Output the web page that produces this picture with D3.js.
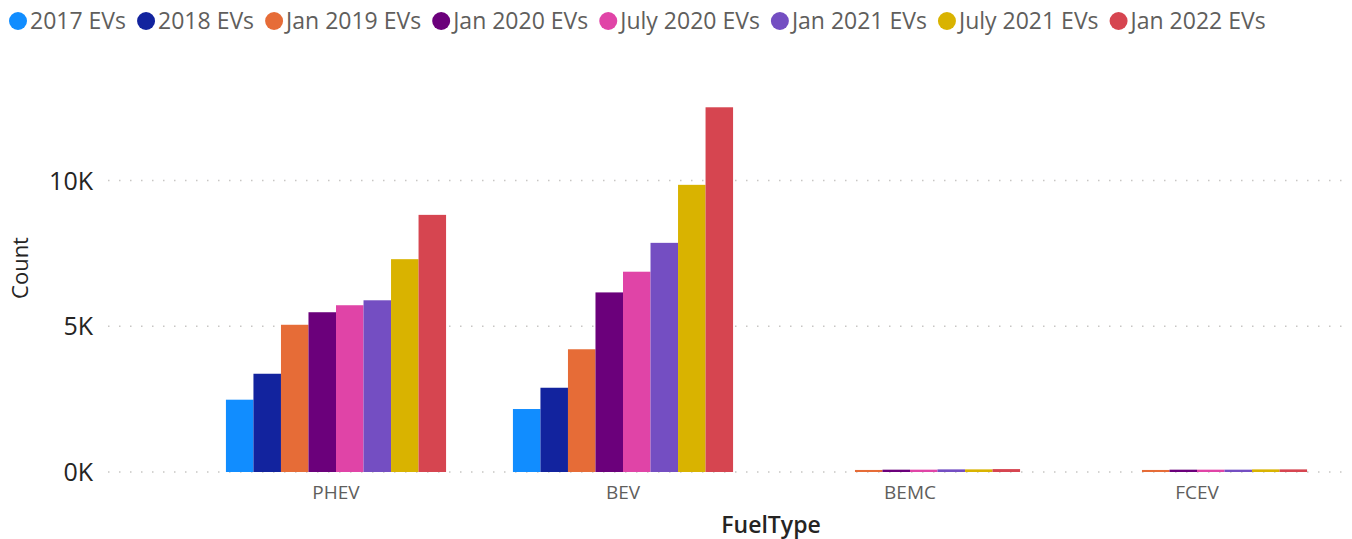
<!DOCTYPE html>
<html>
<head>
<meta charset="utf-8">
<script src="https://cdn.jsdelivr.net/npm/d3@7"></script>
<style>
  body { margin: 0; background: #fff; }
  svg { display: block; font-family: "Segoe UI", "Open Sans", "Noto Sans", sans-serif; }
</style>
</head>
<body>
<svg id="chart" width="1352" height="539"></svg>
<script>
// data
var fuelTypes = ["PHEV", "BEV", "BEMC", "FCEV"];
var seriesNames = ["2017 EVs", "2018 EVs", "Jan 2019 EVs", "Jan 2020 EVs",
                   "July 2020 EVs", "Jan 2021 EVs", "July 2021 EVs", "Jan 2022 EVs"];
var seriesColors = ["#118DFF", "#12239E", "#E66C37", "#6B007B",
                    "#E044A7", "#744EC2", "#D9B300", "#D64550"];
// values per fuel type, in series order
var phev = [2480, 3370, 5050, 5480, 5720, 5890, 7300, 8820];
var bev  = [2160, 2890, 4210, 6160, 6870, 7860, 9850, 12510];
var bemc = [0, 0, 70, 80, 80, 90, 90, 100];
var fcev = [0, 0, 70, 80, 80, 80, 90, 90];
var yTicks = [0, 5000, 10000];

var values = [phev, bev, bemc, fcev];

var svg = d3.select("#chart");

var x0 = d3.scaleBand().domain(fuelTypes).range([192.5, 1340.5])
           .paddingInner(0.233).paddingOuter(0.1165);
var x1 = d3.scaleBand().domain(seriesNames).range([0, x0.bandwidth()]);
var y = d3.scaleLinear().domain([0, 13000]).range([472, 93]);

// gridlines
svg.append("g").selectAll("line")
  .data(yTicks).enter().append("line")
  .attr("x1", 108).attr("x2", 1342)
  .attr("y1", function(d){ return y(d); })
  .attr("y2", function(d){ return y(d); })
  .attr("stroke", "#C8C6C4")
  .attr("stroke-width", 1.5)
  .attr("stroke-dasharray", "1.5,9.5");

// y axis labels
var yAxis = d3.axisLeft(y).tickValues(yTicks).tickSize(0).tickPadding(0)
  .tickFormat(function(d){ return (d / 1000) + "K"; });
var ya = svg.append("g").attr("transform", "translate(93,0)").call(yAxis)
  .attr("font-family", null).attr("font-size", null);
ya.select(".domain").remove();
ya.selectAll("text").attr("fill", "#252423").style("font-size", "25px")
  .attr("dy", "0.35em");

// bars
var groups = svg.append("g").selectAll("g")
  .data(fuelTypes).enter().append("g")
  .attr("transform", function(d){ return "translate(" + x0(d) + ",0)"; });

groups.selectAll("rect")
  .data(function(d, i){
    return values[i].map(function(v, j){ return {s: seriesNames[j], v: v, c: seriesColors[j]}; });
  })
  .enter().append("rect")
  .attr("x", function(d){ return x1(d.s); })
  .attr("width", x1.bandwidth())
  .attr("y", function(d){ return y(d.v); })
  .attr("height", function(d){ return y(0) - y(d.v); })
  .attr("fill", function(d){ return d.c; });

// x axis labels
var xAxis = d3.axisBottom(x0).tickSize(0).tickPadding(0);
var xa = svg.append("g").attr("transform", "translate(0,484)").call(xAxis)
  .attr("font-family", null).attr("font-size", null);
xa.select(".domain").remove();
xa.selectAll("text").attr("fill", "#605E5C").style("font-size", "19px")
  .attr("dy", "0.8em");

// axis titles
svg.append("text")
  .attr("transform", "translate(28,268) rotate(-90)")
  .attr("text-anchor", "middle")
  .attr("fill", "#252423")
  .style("font-size", "22px")
  .text("Count");

svg.append("text")
  .attr("x", 771).attr("y", 533)
  .attr("text-anchor", "middle")
  .attr("fill", "#252423")
  .style("font-size", "23px")
  .style("font-weight", "600")
  .text("FuelType");

// legend
var lg = svg.append("g");
var lx = 18;
seriesNames.forEach(function(name, i){
  lg.append("circle").attr("cx", lx).attr("cy", 21).attr("r", 9)
    .attr("fill", seriesColors[i]);
  var t = lg.append("text").attr("x", lx + 12).attr("y", 21)
    .attr("dy", "0.35em").attr("fill", "#605E5C")
    .style("font-size", "23px").text(name);
  lx = lx + 12 + t.node().getComputedTextLength() + 20;
});
</script>
</body>
</html>
